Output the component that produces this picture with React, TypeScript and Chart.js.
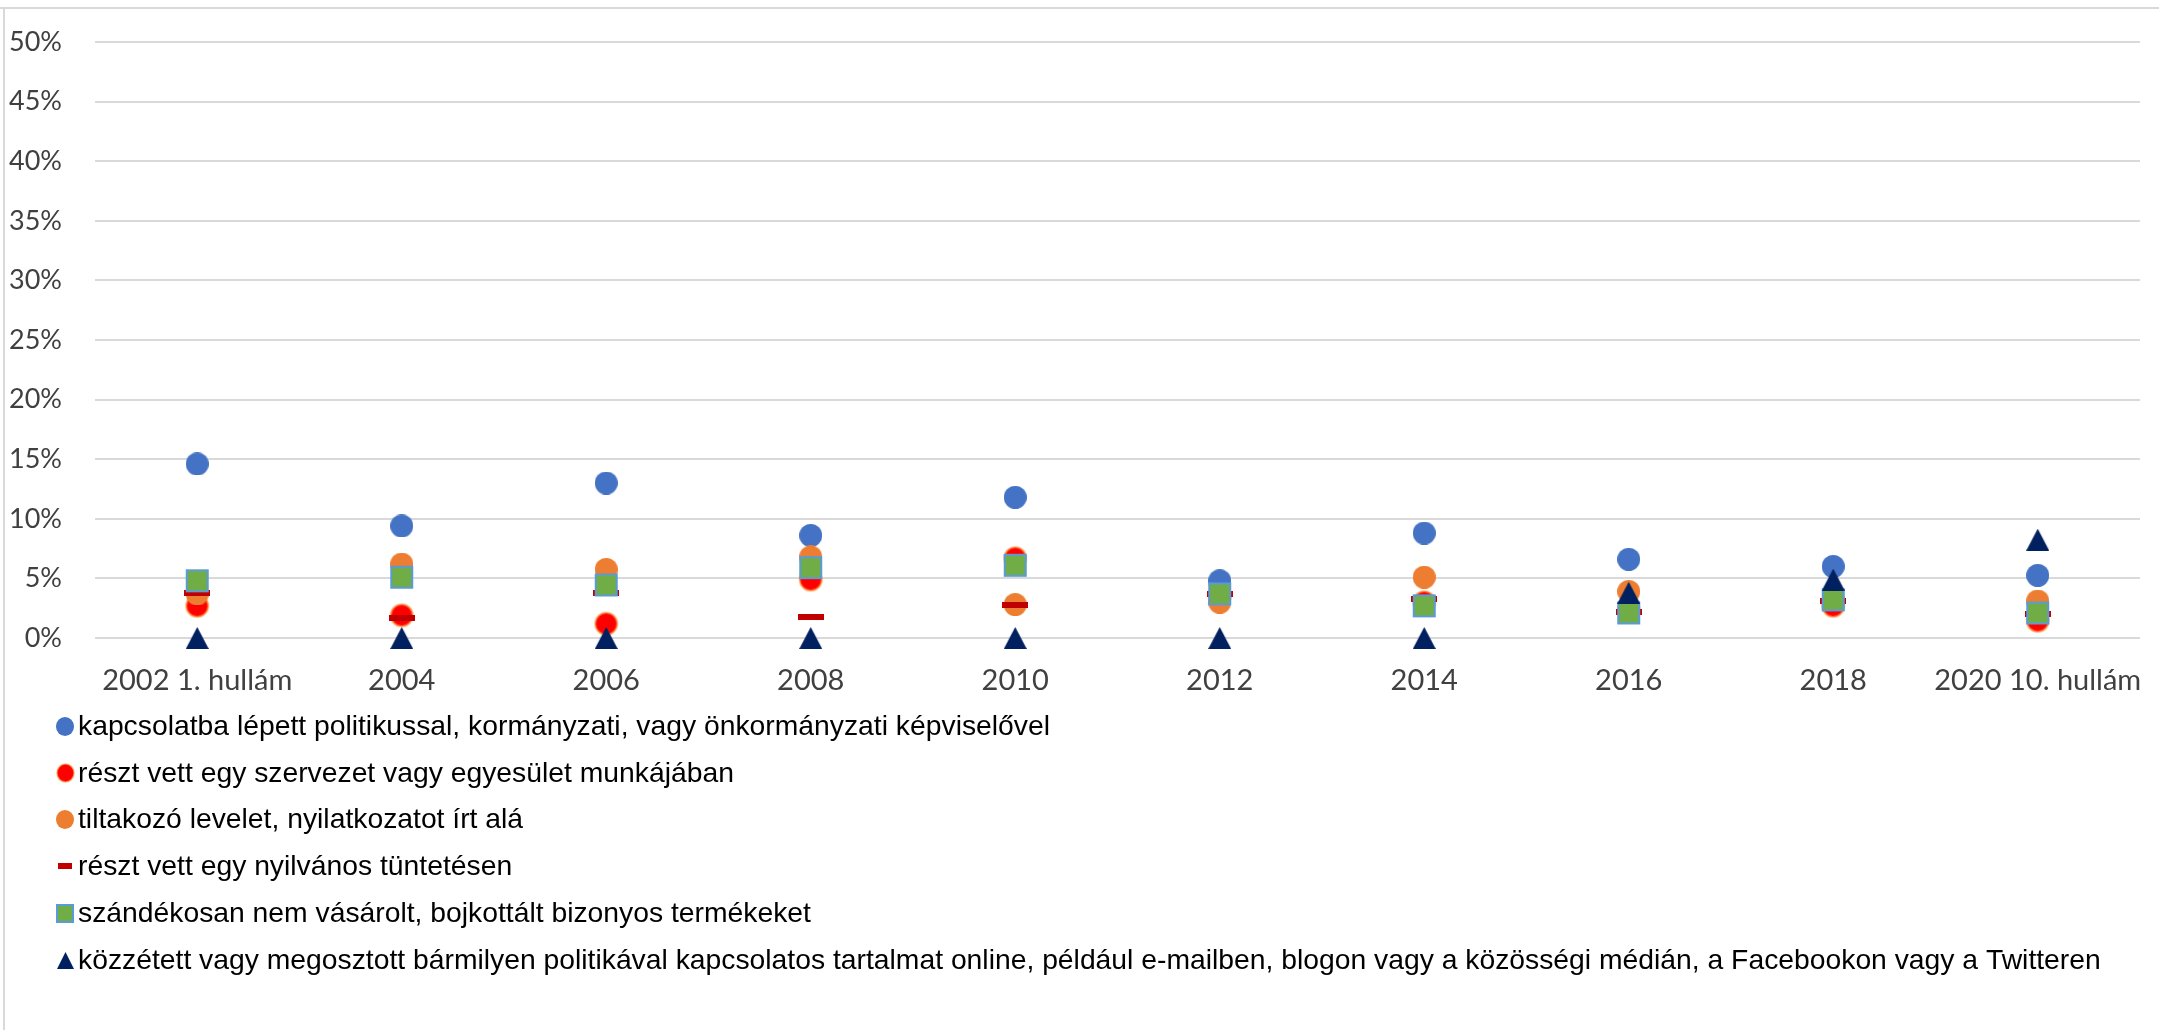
import React, { useEffect, useRef } from 'react';
import { Chart, registerables } from 'chart.js';

Chart.register(...registerables);

// ---------- data (percent) ----------
const categories = ['2002 1. hullám', '2004', '2006', '2008', '2010', '2012', '2014', '2016', '2018', '2020 10. hullám'];

const contactedPolitician = [14.6, 9.4, 13.0, 8.6, 11.8, 4.8, 8.8, 6.6, 6.0, 5.25];
const workedInOrganisation = [2.7, 1.9, 1.2, 4.9, 6.7, 3.5, 3.0, 2.3, 2.7, 1.45];
const signedPetition = [3.7, 6.2, 5.75, 6.8, 2.8, 3.0, 5.1, 3.9, 3.2, 3.1];
const tookPartInDemonstration = [3.75, 1.7, 3.75, 1.8, 2.8, 3.65, 3.3, 2.2, 3.1, 2.0];
const boycottedProducts = [4.8, 5.1, 4.45, 5.9, 6.1, 3.7, 2.7, 2.1, 3.2, 2.1];
const postedOnline = [0, 0, 0, 0, 0, 0, 0, 3.8, 4.9, 8.25];

const seriesLabels = [
  'kapcsolatba lépett politikussal, kormányzati, vagy önkormányzati képviselővel',
  'részt vett egy szervezet vagy egyesület munkájában',
  'tiltakozó levelet, nyilatkozatot írt alá',
  'részt vett egy nyilvános tüntetésen',
  'szándékosan nem vásárolt, bojkottált bizonyos termékeket',
  'közzétett vagy megosztott bármilyen politikával kapcsolatos tartalmat online, például e-mailben, blogon vagy a közösségi médián, a Facebookon vagy a Twitteren',
];

const yMin = 0;
const yMax = 50;
const yStep = 5;

// ---------- marker images ----------
function makeMarker(shape: string, w: number, h: number, fill: string, stroke?: string, lw = 0): HTMLCanvasElement {
  const pad = Math.ceil(lw);
  const c = document.createElement('canvas');
  c.width = w + pad * 2;
  c.height = h + pad * 2;
  const ctx = c.getContext('2d')!;
  const cx = c.width / 2;
  const cy = c.height / 2;
  ctx.fillStyle = fill;
  ctx.beginPath();
  if (shape === 'circle') {
    ctx.ellipse(cx, cy, w / 2, h / 2, 0, 0, Math.PI * 2);
  } else if (shape === 'rect') {
    ctx.rect(pad, pad, w, h);
  } else if (shape === 'triangle') {
    ctx.moveTo(cx, pad);
    ctx.lineTo(pad + w, pad + h);
    ctx.lineTo(pad, pad + h);
    ctx.closePath();
  }
  ctx.fill();
  if (stroke && lw) {
    ctx.strokeStyle = stroke;
    ctx.lineWidth = lw;
    ctx.stroke();
  }
  return c;
}

const BLUE = '#4472C4';
const RED = '#FF0000';
const ORANGE = '#ED7D31';
const DARKRED = '#C00000';
const GREEN = '#70AD47';
const LIGHTBLUE = '#5B9BD5';
const NAVY = '#002060';
const HALO = 'rgba(255,150,60,0.65)';

function plotMarkers() {
  return [
    makeMarker('circle', 23, 23, BLUE),
    makeMarker('circle', 22, 22, RED, HALO, 2),
    makeMarker('circle', 23, 23, ORANGE),
    makeMarker('rect', 26, 6, DARKRED),
    makeMarker('rect', 21, 21, GREEN, LIGHTBLUE, 2),
    makeMarker('triangle', 23, 22, NAVY),
  ];
}

function legendMarkers() {
  return [
    makeMarker('circle', 18, 19, BLUE),
    makeMarker('circle', 17, 18, RED, HALO, 1.5),
    makeMarker('circle', 18, 19, ORANGE),
    makeMarker('rect', 14, 6, DARKRED),
    makeMarker('rect', 16, 17, GREEN, LIGHTBLUE, 2),
    makeMarker('triangle', 17, 17, NAVY),
  ];
}

const tickFont = { family: "Lato, 'Open Sans', sans-serif", size: 29 };
const yTickFont = { family: "Lato, 'Open Sans', sans-serif", size: 27 };
const tickColor = '#404040';

export default function App() {
  const canvasRef = useRef<HTMLCanvasElement | null>(null);

  useEffect(() => {
    document.body.style.margin = '0';
    const canvas = canvasRef.current;
    if (!canvas) return;

    const pm = plotMarkers();
    const lm = legendMarkers();
    const allSeries = [
      contactedPolitician,
      workedInOrganisation,
      signedPetition,
      tookPartInDemonstration,
      boycottedProducts,
      postedOnline,
    ];

    const decorPlugin = {
      id: 'decor',
      beforeDraw(chart: any) {
        const ctx = chart.ctx;
        ctx.save();
        ctx.strokeStyle = '#D9D9D9';
        ctx.lineWidth = 2;
        ctx.beginPath();
        ctx.moveTo(0, 8);
        ctx.lineTo(chart.width, 8);
        ctx.moveTo(4, 8);
        ctx.lineTo(4, chart.height);
        ctx.stroke();
        ctx.restore();
      },
      afterDraw(chart: any) {
        const ctx = chart.ctx;
        const area = chart.chartArea;
        const startY = area.bottom + 88;
        const rowH = 46.8;
        const markerX = 65;
        const textX = 78;
        ctx.save();
        ctx.font = "28.3px 'Liberation Sans', Arial, sans-serif";
        ctx.fillStyle = '#000000';
        ctx.textBaseline = 'middle';
        ctx.textAlign = 'left';
        chart.data.datasets.forEach((ds: any, i: number) => {
          const y = startY + i * rowH;
          const img = lm[i];
          ctx.drawImage(img, Math.round(markerX - img.width / 2), Math.round(y - img.height / 2));
          ctx.fillText(ds.label, textX, y + 1);
        });
        ctx.restore();
      },
    };

    const chart = new Chart(canvas, {
      type: 'line',
      data: {
        labels: categories,
        datasets: allSeries.map((data, i) => ({
          label: seriesLabels[i],
          data,
          showLine: false,
          pointStyle: pm[i],
          pointRadius: 12,
          pointHoverRadius: 12,
          order: allSeries.length - i,
          clip: false,
        })),
      },
      options: {
        responsive: false,
        animation: false,
        events: [],
        layout: { padding: { top: 42, left: 4, right: 19, bottom: 332 } },
        plugins: {
          legend: { display: false },
          tooltip: { enabled: false },
        },
        scales: {
          x: {
            type: 'category',
            offset: true,
            grid: { display: false },
            border: { display: false },
            ticks: {
              font: tickFont,
              color: tickColor,
              padding: 17,
              maxRotation: 0,
              autoSkip: false,
            },
            afterFit: (s: any) => {
              s.height = 60;
              s.paddingLeft = 0;
              s.paddingRight = 0;
            },
          },
          y: {
            min: yMin,
            max: yMax,
            ticks: {
              stepSize: yStep,
              callback: (v: any) => `${v}%`,
              font: yTickFont,
              color: tickColor,
              padding: 33,
            },
            grid: { color: '#D9D9D9', lineWidth: 2, drawTicks: false },
            border: { display: false },
            afterFit: (s: any) => {
              s.width = 91;
              s.paddingTop = 0;
              s.paddingBottom = 0;
            },
          },
        },
      },
      plugins: [decorPlugin],
    } as any);

    return () => {
      chart.destroy();
    };
  }, []);

  return (
    <div style={{ width: 2159, height: 1030, position: 'relative', background: '#fff' }}>
      <canvas ref={canvasRef} width={2159} height={1030} style={{ display: 'block' }} />
    </div>
  );
}
